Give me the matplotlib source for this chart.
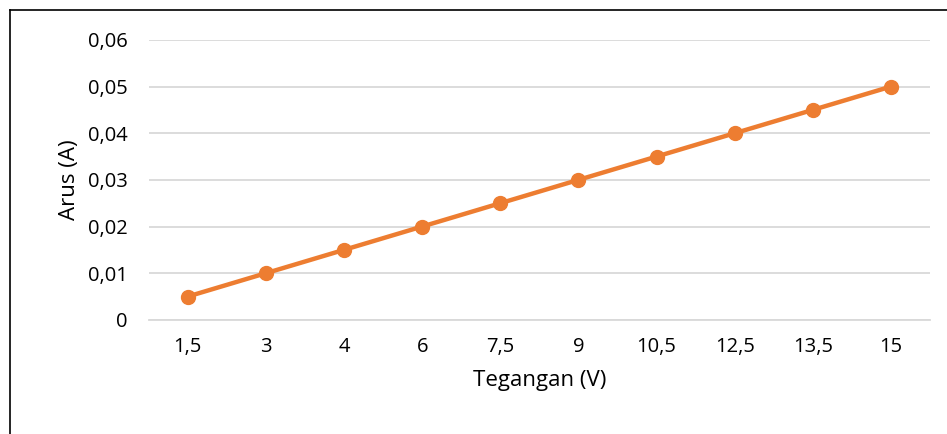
import matplotlib.pyplot as plt
from matplotlib.lines import Line2D

# Data
tegangan = ['1,5', '3', '4', '6', '7,5', '9', '10,5', '12,5', '13,5', '15']
arus = [0.005, 0.01, 0.015, 0.02, 0.025, 0.03, 0.035, 0.04, 0.045, 0.05]
y_ticks = [0, 0.01, 0.02, 0.03, 0.04, 0.05, 0.06]
y_labels = ['0', '0,01', '0,02', '0,03', '0,04', '0,05', '0,06']

plt.rcParams['font.family'] = ['Open Sans', 'DejaVu Sans']

fig = plt.figure(figsize=(9.47, 4.34), dpi=100)
ax = fig.add_axes([0.157, 0.263, 0.825, 0.645])

x = range(len(tegangan))
ax.plot(x, arus, color='#ED7D31', linewidth=3.2, marker='o', markersize=10,
        zorder=3)

ax.set_xlim(-0.5, len(tegangan) - 0.5)
ax.set_ylim(0, 0.06)
ax.set_xticks(list(x))
ax.set_xticklabels(tegangan)
ax.set_yticks(y_ticks)
ax.set_yticklabels(y_labels)
ax.tick_params(length=0, labelsize=14.5, colors='black')
ax.tick_params(axis='x', pad=12)
ax.tick_params(axis='y', pad=15)

ax.grid(axis='y', color='#D9D9D9', linewidth=1.3)
ax.set_axisbelow(True)
for s in ['top', 'right', 'left']:
    ax.spines[s].set_visible(False)
ax.spines['bottom'].set_color('#D9D9D9')
ax.spines['bottom'].set_linewidth(1.3)

ax.set_xlabel('Tegangan (V)', fontsize=16, labelpad=10)
ax.set_ylabel('Arus (A)', fontsize=16, labelpad=6)

# chart frame (only left and top edges visible)
fig.add_artist(Line2D([10 / 947, 10 / 947], [0, 1 - 10 / 434],
                      transform=fig.transFigure, color='black', linewidth=1.2))
fig.add_artist(Line2D([10 / 947, 1], [1 - 10 / 434, 1 - 10 / 434],
                      transform=fig.transFigure, color='black', linewidth=1.2))

plt.savefig('out.png', dpi=100)
